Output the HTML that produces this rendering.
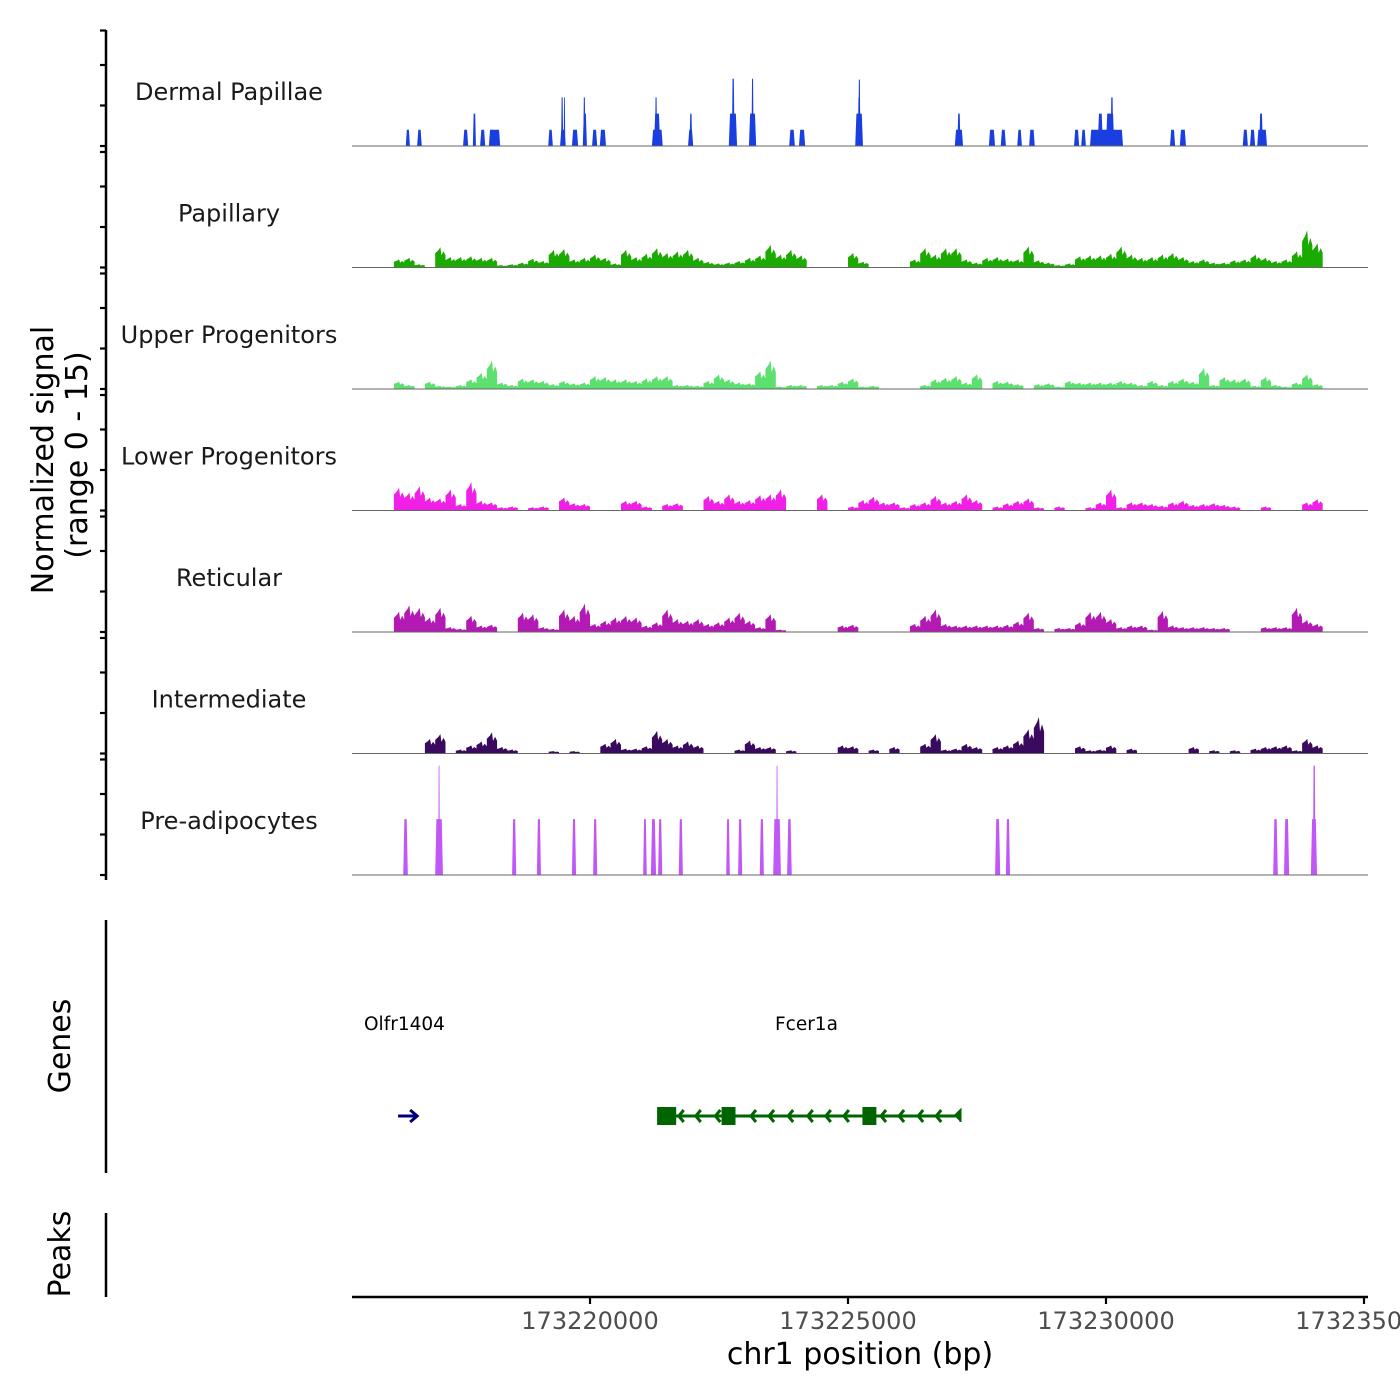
<!DOCTYPE html>
<html><head><meta charset="utf-8">
<style>
html,body{margin:0;padding:0;background:#fff;}
svg{display:block;font-family:"DejaVu Sans","Liberation Sans",sans-serif;}
</style></head>
<body>
<svg id="chart" width="1400" height="1400" viewBox="0 0 1400 1400" xmlns="http://www.w3.org/2000/svg"></svg>
<script>
// ---- data (positions in kb offset from 173215000; heights in normalized units 0-15) ----
const trackNames = ["Dermal Papillae","Papillary","Upper Progenitors","Lower Progenitors","Reticular","Intermediate","Pre-adipocytes"];
const trackColors = ["#1a3fe0","#1aaa00","#5ce070","#f020e6","#b31ab3","#3a0a5e","#c157f7"];
const xTickValues = [173220000,173225000,173230000,173235000];
const xTickLabels = ["173220000","173225000","173230000","173235000"];
const binStartKb = 0.4;
const binSizeKb = 0.2;
const dermalSegments = [
 [1.43,1.51,2],[1.65,1.74,2],[2.54,2.64,2],[2.73,2.79,4],[2.87,2.97,2],[3.04,3.26,2],
 [4.19,4.28,2],[4.42,4.53,2],[4.44,4.48,6],[4.49,4.52,6],[4.65,4.77,2],[4.86,4.94,4],[4.87,4.91,6],
 [5.04,5.14,2],[5.19,5.31,2],[6.20,6.41,2],[6.24,6.36,4],[6.26,6.30,6],[6.90,7.00,2],[6.93,6.98,4],
 [7.69,7.85,4],[7.75,7.80,8.3],[8.08,8.22,4],[8.13,8.17,8.3],[8.86,8.97,2],[9.05,9.17,2],
 [10.14,10.29,4],[10.19,10.24,6],[10.20,10.24,8.2],[12.07,12.23,2],[12.12,12.18,4],
 [12.73,12.85,2],[12.96,13.06,2],[13.28,13.37,2],[13.51,13.62,2],[14.38,14.48,2],[14.52,14.61,2],
 [14.69,15.33,2],[14.84,14.94,4],[15.00,15.16,4],[15.09,15.14,6],[16.24,16.34,2],[16.43,16.55,2],
 [17.65,17.75,2],[17.79,17.89,2],[17.93,18.12,2],[17.97,18.04,4]
];
const papillaryBins = [0,0,0,0,1,1.2,0.4,0,2.5,1.3,1.3,1.4,1.2,1.2,0.3,0.4,0.6,1.1,0.8,2.2,2.3,1,1.2,1.6,1.2,0.5,2.2,1.3,1.7,2.4,1.8,2,2.2,1.2,0.7,0.5,0.6,0.8,1.2,1.5,2.8,1.6,2.2,1.5,0,0,0,0,1.8,0.7,0,0,0,0,1,2.4,1.6,2.4,2.4,1,0.6,1.2,1.3,1.1,1,2.6,0.9,0.6,0.3,0.5,1.4,1.5,1.5,1.7,2.6,1.6,1.2,1.3,1.6,1.8,1.3,0.8,1,0.6,0.6,0.9,1,1.6,1.2,0.8,1,2,4.6,3,0,0];
const upperBins = [0,0,0,0,0.9,0.5,0,0.9,0.4,0.3,0.5,1.2,2,3.5,0.8,0.5,1.3,1.2,1,0.6,1,0.7,0.8,1.6,1.5,1.2,1.2,1,1.3,1.6,1.6,0.5,0.5,0.4,1,1.8,1.2,0.8,0.7,2.2,3.5,0.3,0.5,0.5,0,0.5,0.5,0.9,1.3,0.3,0.4,0,0,0,0,0.5,1.2,1.4,1.6,0.8,1.8,0,1,0.9,0.6,0,0.6,0.7,0.3,1,0.8,0.8,0.8,0.8,1,0.8,0.5,1,0.5,1,1.3,0.9,2.6,0.5,1.5,1.2,1.3,0.4,1.5,0.5,0.3,0.8,1.8,0.6,0,0];
const lowerBins = [0,0,0,0,2.8,2.2,3,1.6,1.5,2.6,0.8,3.5,1.2,1,0.4,0.5,0,0.4,0.5,0,1.6,0.9,0.8,0,0,0,1.2,1.2,0.5,0,0.8,0.9,0,0,1.8,1.2,2,1.2,1.3,1.9,2,2.6,0,0,0,2,0,0,0.5,1.3,1.7,1,1,0.4,0.8,1,1.8,1,1.2,2,1.3,0,0.5,0.9,1.2,1.5,0.4,0,0.5,0,0,0.4,1,2.6,0.4,1,1,0.8,0.6,1,1.2,0.7,0.8,0.9,0.7,0.5,0,0,0.5,0,0,0,1,1.4,0,0];
const reticularBins = [0,0,0,0,2.5,3.3,3,1.8,3,0.6,0.4,2,0.8,0.9,0,0,2.4,2.2,0.6,0.4,2.8,2,3.5,1,1.4,1.8,2,1.8,0.8,1.2,2.8,1.6,1.4,1.6,1,1.2,1.8,2.4,1.4,0.6,2.2,0.3,0,0,0,0,0,0.8,0.9,0,0,0,0,0,1,2,2.8,1,0.8,0.8,0.8,0.8,0.8,0.9,1.3,2.4,0.5,0,0.5,0.5,1.2,2.5,2.5,1.6,0.6,0.8,0.8,0.3,2.6,0.8,0.6,0.6,0.6,0.5,0.5,0,0,0,0.6,0.6,0.6,3,1.5,1,0,0];
const intermediateBins = [0,0,0,0,0,0,0,1.8,2.4,0,0.5,1,1.5,2.6,0.8,0.5,0,0,0,0.3,0,0.3,0,0,1.2,1.8,0.6,0.6,0.9,2.8,1.8,1,1.5,1,0,0,0,0.5,1.6,0.8,0.8,0,0.4,0,0,0,0,1,0.9,0,0.5,0,0.8,0,0,1.2,2.4,0.5,0.6,1.2,0.8,0,0.8,1,1.6,3,4.5,0,0,0,0.9,0.4,0.5,1,0,0.6,0,0,0,0,0,0.8,0,0.4,0,0.4,0,0.6,0.8,0.9,1,0.4,1.8,1,0,0];
const preadipoSegments = [
 [1.38,1.47,6.9],[2.00,2.15,6.9],[2.06,2.09,13.5],[3.49,3.57,6.9],[3.97,4.05,6.9],[4.65,4.73,6.9],
 [5.06,5.14,6.9],[6.03,6.10,6.9],[6.18,6.28,6.9],[6.32,6.40,6.9],[6.72,6.80,6.9],[7.64,7.71,6.9],
 [7.87,7.95,6.9],[8.29,8.37,6.9],[8.55,8.70,6.9],[8.61,8.64,13.5],[8.82,8.91,6.9],
 [12.85,12.95,6.9],[13.06,13.14,6.9],[18.24,18.33,6.9],[18.45,18.55,6.9],[18.97,19.09,6.9],[19.01,19.06,13.5]
];
const geneNames = ["Olfr1404","Fcer1a"];
const fcerStartKb = 6.45, fcerEndKb = 12.18;
const fcerExons = [[6.30,6.67],[7.55,7.82],[10.28,10.55]];
const fcerChevrons = [6.72,7.05,7.43,8.12,8.47,8.84,9.22,9.57,9.92,10.64,10.99,11.36,11.71];
const olfrStartKb = 1.28, olfrEndKb = 1.65;

// ---- scales ----
const NS = "http://www.w3.org/2000/svg";
const svg = document.getElementById("chart");
const PX_PER_KB = 51.6, X0 = 332;
function xKb(kb){ return X0 + kb*PX_PER_KB; }
function xBp(bp){ return xKb((bp-173215000)/1000); }
const TRACK_H = 121.5, TRACK_TOP = 24.5, UNITS = 15;
function baseY(i){ return TRACK_TOP + (i+1)*TRACK_H; }
function yVal(i,v){ return baseY(i) - v/UNITS*TRACK_H; }
function mk(tag, attrs, parent){
  const e = document.createElementNS(NS, tag);
  for (const k in attrs) e.setAttribute(k, attrs[k]);
  (parent||svg).appendChild(e); return e;
}

const binTracks = {1:papillaryBins,2:upperBins,3:lowerBins,4:reticularBins,5:intermediateBins};
const segTracks = {0:dermalSegments,6:preadipoSegments};

for (let i=0;i<7;i++){
  const g = mk("g",{});
  
  
  const b = baseY(i);
  if (segTracks[i]){
    segTracks[i].forEach(s=>{
      const x1 = xKb(s[0]), x2 = xKb(s[1]), y = yVal(i,s[2]);
      const t = Math.min(1.2,(x2-x1)/4);
      const p = mk("polygon",{points:`${x1},${b} ${x1+t},${y} ${x2-t},${y} ${x2},${b}`, fill:trackColors[i]}, g);
      
      
    });
  } else {
    const vals = binTracks[i];
    let d = "";
    let open = false;
    vals.forEach((v,k)=>{
      const xa = xKb(binStartKb + k*binSizeKb), xb = xKb(binStartKb + (k+1)*binSizeKb);
      const w = xb-xa;
      if (v>0){
        if (!open){ d += `M${xa.toFixed(1)},${b} `; open = true; }
        d += `L${xa.toFixed(1)},${yVal(i,v*0.7).toFixed(1)} L${(xa+w*0.3).toFixed(1)},${yVal(i,v*0.85).toFixed(1)} L${(xa+w*0.5).toFixed(1)},${yVal(i,v).toFixed(1)} L${(xa+w*0.6).toFixed(1)},${yVal(i,v*0.6).toFixed(1)} L${(xa+w*0.8).toFixed(1)},${yVal(i,v*0.8).toFixed(1)} L${xb.toFixed(1)},${yVal(i,v*0.6).toFixed(1)} `;
      } else if (open){
        d += `L${xa.toFixed(1)},${b} Z `; open = false;
      }
    });
    if (open){ d += `L${xKb(binStartKb+vals.length*binSizeKb).toFixed(1)},${b} Z`; }
    const p = mk("path",{d:d, fill:trackColors[i]}, g);
    
    
  }
  const bl = mk("line",{x1:352,x2:1368,y1:b,y2:b,stroke:"#666",'stroke-width':1}, g);
  
  
  const lab = mk("text",{x:229,y:b-46,'text-anchor':'middle','font-size':24,fill:'#1a1a1a'}, g);
  lab.textContent = trackNames[i];
  
  
  [0,5,10,15].forEach(v=>{
    const ty = yVal(i,v) + (v===15 ? 6 : 0);
    const tk = mk("line",{x1:100,x2:106,y1:ty,y2:ty,stroke:"#000",'stroke-width':2.2}, g);
    
    
  });
}

[[30,880,'signal-y-axis'],[920,1173,'genes-y-axis'],[1213,1297,'peaks-y-axis']].forEach(a=>{
  const l = mk("line",{x1:106,x2:106,y1:a[0],y2:a[1],stroke:"#000",'stroke-width':2.5});
  
  
});

function rotText(txt,x,y,name,size){
  const t = mk("text",{x:x,y:y,transform:`rotate(-90 ${x} ${y})`,'text-anchor':'middle','font-size':size,fill:'#000'});
  t.textContent = txt;
  
  
}
rotText("Normalized signal",53,460,'y-axis-title',30);
rotText("(range 0 - 15)",87,455,'y-axis-subtitle',30);
rotText("Genes",70,1046,'genes-axis-title',30);
rotText("Peaks",70,1254,'peaks-axis-title',30);

const gg = mk("g",{});


const gl1 = mk("text",{x:364,y:1030,'font-size':18.5,fill:'#000'},gg);
gl1.textContent = geneNames[0];


const gl2 = mk("text",{x:775,y:1030,'font-size':18.5,fill:'#000'},gg);
gl2.textContent = geneNames[1];


const GY = 1116;
const oa = mk("g",{},gg);


mk("line",{x1:xKb(olfrStartKb),x2:xKb(olfrEndKb)-2,y1:GY,y2:GY,stroke:'#00007f','stroke-width':3},oa);
mk("polyline",{points:`${xKb(olfrEndKb)-7},${GY-6} ${xKb(olfrEndKb)},${GY} ${xKb(olfrEndKb)-7},${GY+6}`,fill:'none',stroke:'#00007f','stroke-width':3},oa);
const fg = mk("g",{},gg);


mk("line",{x1:xKb(fcerStartKb),x2:xKb(fcerEndKb),y1:GY,y2:GY,stroke:'#006400','stroke-width':3},fg);
fcerChevrons.forEach(c=>{
  const cx = xKb(c);
  const ch = mk("polyline",{points:`${cx+5},${GY-6} ${cx},${GY} ${cx+5},${GY+6}`,fill:'none',stroke:'#006400','stroke-width':3},fg);
  
  
});
fcerExons.forEach(e=>{
  const r = mk("rect",{x:xKb(e[0]),y:GY-9,width:xKb(e[1])-xKb(e[0]),height:18,fill:'#006400'},fg);
  
  
});
mk("polyline",{points:`${xKb(fcerEndKb)-6},${GY} ${xKb(fcerEndKb)},${GY-6} ${xKb(fcerEndKb)},${GY+6} Z`,fill:'#006400',stroke:'#006400','stroke-width':2},fg);

const xa = mk("g",{});


mk("line",{x1:352,x2:1368,y1:1297,y2:1297,stroke:'#000','stroke-width':2.5},xa);
xTickValues.forEach((v,k)=>{
  const x = xBp(v);
  const tk = mk("line",{x1:x,x2:x,y1:1297,y2:1304,stroke:'#000','stroke-width':2.2},xa);
  
  
  const t = mk("text",{x:x,y:1329,'text-anchor':'middle','font-size':24,fill:'#4d4d4d'},xa);
  t.textContent = xTickLabels[k];
  
  
});
const xt = mk("text",{x:860,y:1364,'text-anchor':'middle','font-size':30,fill:'#000'});
xt.textContent = "chr1 position (bp)";


</script>
</body></html>
